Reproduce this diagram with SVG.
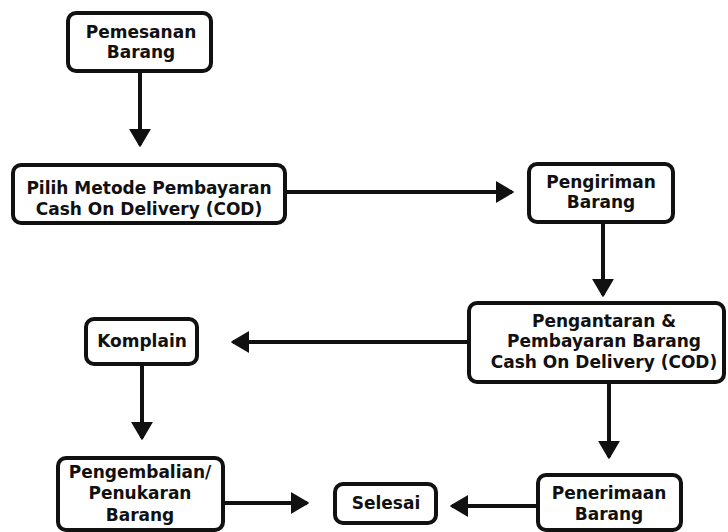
<svg xmlns="http://www.w3.org/2000/svg" width="728" height="532" viewBox="0 0 728 532">
<style>
.box{fill:#fff;stroke:#111;stroke-width:4}
.t{font-family:"DejaVu Sans","Liberation Sans",sans-serif;font-weight:700;font-size:17px;fill:#111;text-anchor:middle}
.c{stroke:#111;stroke-width:4;fill:none}
</style>
<defs>
<marker id="ah" markerUnits="userSpaceOnUse" markerWidth="20" markerHeight="22" refX="16" refY="11" orient="auto" viewBox="0 0 20 22">
<path d="M0,1 L17,11 L0,21 Z" fill="#111" stroke="#111" stroke-width="1.5" stroke-linejoin="round"/>
</marker>
</defs>
<rect width="728" height="532" fill="#fff"/>
<g id="connectors">
<line class="c" x1="140" y1="71" x2="140" y2="145" marker-end="url(#ah)"/>
<line class="c" x1="285" y1="192" x2="512" y2="192" marker-end="url(#ah)"/>
<line class="c" x1="603" y1="222" x2="603" y2="295" marker-end="url(#ah)"/>
<line class="c" x1="469" y1="342" x2="233" y2="342" marker-end="url(#ah)"/>
<line class="c" x1="142" y1="364" x2="142" y2="438" marker-end="url(#ah)"/>
<line class="c" x1="223" y1="503" x2="307" y2="503" marker-end="url(#ah)"/>
<line class="c" x1="538" y1="506" x2="452" y2="506" marker-end="url(#ah)"/>
<line class="c" x1="609" y1="382" x2="609" y2="457" marker-end="url(#ah)"/>
</g>
<g id="n1"><rect class="box" x="68" y="13" width="143" height="58" rx="8"/>
<text class="t" x="141" y="38">Pemesanan<tspan x="141" dy="20">Barang</tspan></text></g>
<g id="n2"><rect class="box" x="13" y="165" width="272" height="58" rx="8"/>
<text class="t" x="149" y="194">Pilih Metode Pembayaran<tspan x="149" dy="21">Cash On Delivery (COD)</tspan></text></g>
<g id="n3"><rect class="box" x="529" y="164" width="144" height="58" rx="8"/>
<text class="t" x="601" y="188">Pengiriman<tspan x="601" dy="20">Barang</tspan></text></g>
<g id="n4"><rect class="box" x="469" y="303" width="255" height="79" rx="8"/>
<text class="t" x="604" y="327">Pengantaran &amp;<tspan x="604" dy="20">Pembayaran Barang</tspan><tspan x="604" dy="21">Cash On Delivery (COD)</tspan></text></g>
<g id="n5"><rect class="box" x="86" y="319" width="111" height="45" rx="8"/>
<text class="t" x="142" y="347">Komplain</text></g>
<g id="n6"><rect class="box" x="58" y="458" width="165" height="72" rx="8"/>
<text class="t" x="140" y="478">Pengembalian/<tspan x="140" dy="21">Penukaran</tspan><tspan x="140" dy="22">Barang</tspan></text></g>
<g id="n7"><rect class="box" x="335" y="484" width="101" height="39" rx="8"/>
<text class="t" x="386" y="509">Selesai</text></g>
<g id="n8"><rect class="box" x="538" y="475" width="143" height="55" rx="8"/>
<text class="t" x="609" y="499">Penerimaan<tspan x="609" dy="21">Barang</tspan></text></g>
</svg>
